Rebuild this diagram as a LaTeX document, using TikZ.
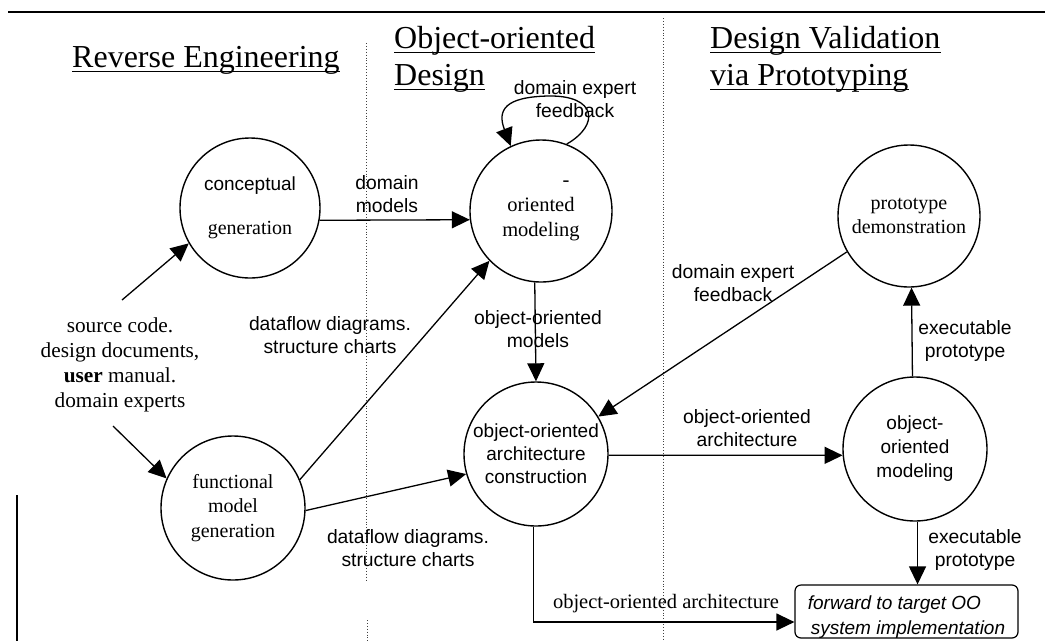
\documentclass[tikz,border=0pt]{standalone}
\usepackage{fontspec}
\setmainfont{Liberation Serif}
\setsansfont{Liberation Sans}
\usetikzlibrary{arrows.meta}
\begin{document}
\begin{tikzpicture}[x=1pt,y=-1pt,
  proc/.style={circle,draw,line width=1.4pt,minimum size=#1,inner sep=0pt,align=center},
  sanslab/.style={align=center,inner sep=1pt,font=\sffamily\fontsize{19.3}{23.5}\selectfont},
  serlab/.style={align=center,inner sep=1pt,font=\rmfamily\fontsize{20.5}{24}\selectfont},
  heading/.style={anchor=base west,inner sep=0pt,font=\rmfamily\fontsize{32}{37}\selectfont},
  flow/.style={line width=1.3pt,-{Triangle[length=18pt,width=17pt]}},
  divider/.style={dotted,line width=0.9pt,black!75}]
\useasboundingbox (0,0) rectangle (1045,641);

% frame lines
\draw[line width=1.4pt] (8,12) -- (1045,12);
\draw[line width=2.6pt] (8,12) -- (100,12);
\draw[line width=2.5pt] (17,495) -- (17,641);
\draw[divider] (366,43) -- (366,580) (367,620) -- (367,641);
\draw[divider] (663,18) -- (663,641);

% headings
\node[heading] (t1) at (72,67) {Reverse Engineering};
\node[heading] (t2a) at (394,48) {Object-oriented};
\node[heading] (t2b) at (394,85) {Design};
\node[heading] (t3a) at (710,48) {Design Validation};
\node[heading] (t3b) at (710,85) {via Prototyping};
\foreach \t in {t1,t2a,t2b,t3a,t3b}
  \draw[line width=1pt] ([yshift=-4pt]\t.base west) -- ([yshift=-4pt]\t.base east);

% processes
\node[proc=140pt] (concept) at (250,208)
  {{\sffamily\fontsize{19}{25}\selectfont conceptual}\\[26pt]{\rmfamily\fontsize{20}{25}\selectfont generation}};
\node[proc=142pt,font=\rmfamily\fontsize{20.5}{25}\selectfont] (oomod) at (541,211)
  {\hphantom{object}-\\oriented\\modeling};
\node[proc=142pt,font=\rmfamily\fontsize{20}{24}\selectfont] (proto) at (909,216)
  {prototype\\demonstration};
\node[proc=144pt,font=\sffamily\fontsize{19}{23}\selectfont] (arch) at (536,454)
  {object-oriented\\architecture\\construction};
\node[proc=144pt,font=\sffamily\fontsize{19}{24}\selectfont] (rmod) at (915,449)
  {object-\\oriented\\modeling};
\node[proc=144pt,font=\rmfamily\fontsize{20}{24.5}\selectfont] (func) at (233,508)
  {functional\\model\\generation};
\node[draw,rounded corners=6pt,line width=1.2pt,minimum width=223pt,minimum height=53pt,
      align=left,inner xsep=2pt,inner ysep=0pt,font=\sffamily\itshape\fontsize{19}{25}\selectfont] (box) at (906.5,611.5)
  {\rule{0pt}{24pt}forward to target OO\\ \hspace{3pt}system implementation};

% source text
\node[align=center,inner sep=1pt,font=\rmfamily\fontsize{21.3}{25}\selectfont] (src) at (120,365)
  {source code.\\design documents,\\\textbf{user} manual.\\domain experts};
\coordinate (in1) at (122,300);
\coordinate (in2) at (113,426);

% connectors
\draw[flow] (in1) -- (concept.210);
\draw[flow] (in2) -- (func.156);
\draw[flow] (concept.-10) -- (oomod.187);
\draw[flow] (func.23) -- (oomod.224);
\draw[flow] (func.-2) -- (arch.196);
\draw[flow] (oomod.-95) -- (arch.north);
\draw[flow] (proto.210) -- (arch.31);
\draw[flow] (arch.-1) -- (rmod.185);
\draw[flow] (rmod.92) -- (proto.-88);
\draw[flow] (rmod.-88) -- (rmod.-88 |- box.north);
\draw[flow] (arch.-92) |- ([yshift=-10.5pt]box.west);
\draw[flow] (oomod.69) .. controls (600,125) and (597,95) .. (548,96)
            .. controls (505,97) and (497,110) .. (oomod.115);

% labels
\node[sanslab] (l1) at (387,194) {domain\\models};
\node[sanslab] (l2) at (330,335) {dataflow diagrams.\\structure charts};
\node[sanslab] (l3) at (538,329) {object-oriented\\models};
\node[sanslab] (l4) at (575,99) {domain expert\\feedback};
\node[sanslab] (l5) at (733,283) {domain expert\\feedback};
\node[sanslab] (l6) at (965,341) {executable\\prototype};
\node[sanslab] (l7) at (747,428) {object-oriented\\architecture};
\node[sanslab] (l8) at (975,550) {executable\\prototype};
\node[sanslab] (l9) at (408,548) {dataflow diagrams.\\structure charts};
\node[serlab] (l10) at (666,604) {object-oriented architecture};
\end{tikzpicture}
\end{document}
